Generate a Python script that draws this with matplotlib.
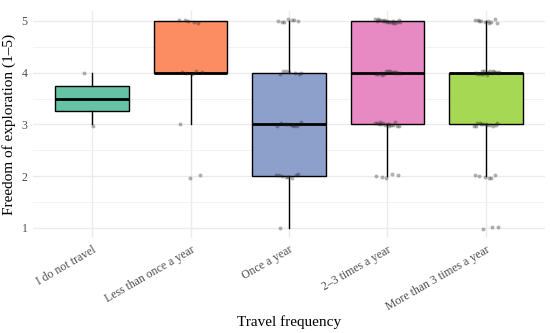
import numpy as np
import matplotlib
matplotlib.use("Agg")
import matplotlib.pyplot as plt

plt.rcParams['font.family'] = ['Liberation Serif', 'DejaVu Serif']

# --- data: counts of each rating (1-5) per travel frequency group ---
categories = ["I do not travel", "Less than once a year", "Once a year",
              "2\u20133 times a year", "More than 3 times a year"]
ratings = [1, 2, 3, 4, 5]
counts = [
    [0, 0, 1, 1, 0],
    [0, 2, 1, 5, 5],
    [1, 8, 9, 7, 7],
    [0, 5, 15, 14, 18],
    [3, 6, 12, 16, 10],
]
colors = ["#66C2A5", "#FC8D62", "#8DA0CB", "#E78AC3", "#A6D854"]

groups = [np.repeat(ratings, c) for c in counts]

fig = plt.figure(figsize=(5.5, 3.33), dpi=100)
ax = fig.add_axes([0.06, 0.285, 0.931, 0.683])

pos = np.arange(1, len(categories) + 1)
bp = ax.boxplot(groups, positions=pos, widths=0.75, patch_artist=True,
                showfliers=False, whis=1.5,
                medianprops=dict(color="black", linewidth=2),
                boxprops=dict(edgecolor="black", linewidth=1),
                whiskerprops=dict(color="black", linewidth=1),
                capprops=dict(linewidth=0), zorder=2)
for patch, c in zip(bp["boxes"], colors):
    patch.set_facecolor(c)

# jittered points (deterministic low-discrepancy jitter)
for i, g in enumerate(groups):
    k = np.arange(len(g))
    jx = ((k * 0.618034 + 0.55 + 0.3 * i) % 1 - 0.5) * 0.26
    jy = ((k * 0.414214 + 0.7 * i) % 1 - 0.5) * 0.08
    ax.scatter(pos[i] + jx, g + jy, s=8, color="#222222", alpha=0.35,
               linewidths=0, zorder=3)

ax.set_xlim(0.4, 5.6)
ax.set_ylim(0.8, 5.2)
ax.set_yticks([1, 2, 3, 4, 5])
ax.set_yticks([1.5, 2.5, 3.5, 4.5], minor=True)
ax.set_xticks(pos)
ax.set_xticklabels(categories, rotation=30, ha="right", rotation_mode="anchor",
                   fontsize=8.5, color="#4D4D4D")
for t in ax.get_yticklabels():
    t.set_fontsize(8.5)
    t.set_color("#4D4D4D")
ax.tick_params(which="both", length=0, pad=4)
ax.grid(True, which="major", color="#EBEBEB", linewidth=1.0, zorder=0)
ax.grid(True, which="minor", axis="y", color="#F0F0F0", linewidth=0.6, zorder=0)
ax.set_axisbelow(True)
for s in ax.spines.values():
    s.set_visible(False)

ax.set_xlabel("Travel frequency", fontsize=11, labelpad=2)
ax.set_ylabel("Freedom of exploration (1\u20135)", fontsize=11, labelpad=4)

fig.savefig("out.png", dpi=100)
